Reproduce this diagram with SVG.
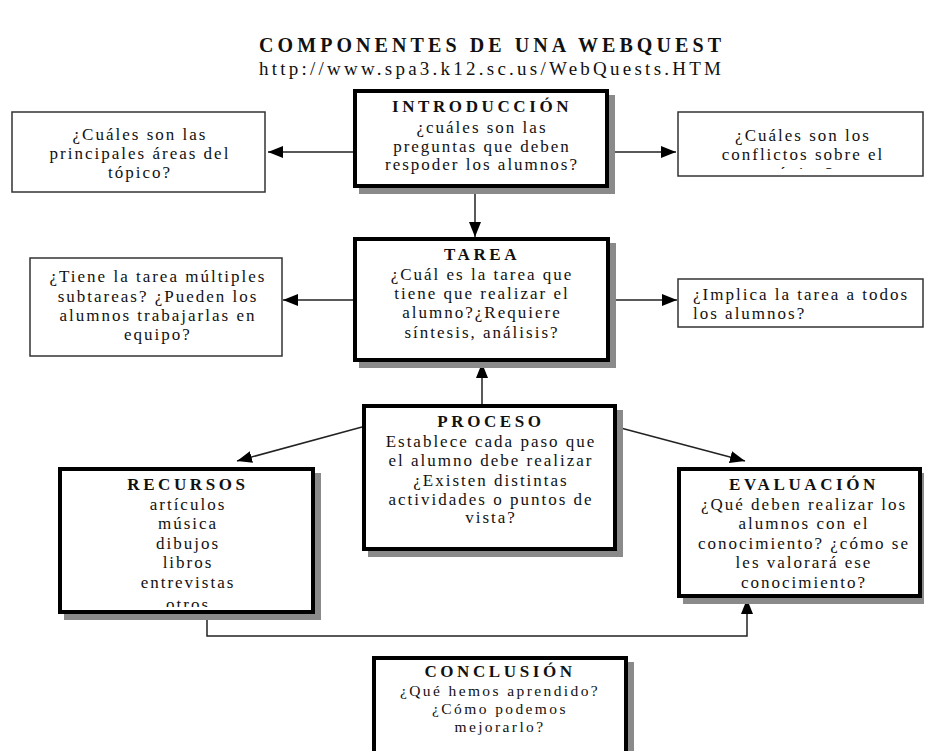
<svg xmlns="http://www.w3.org/2000/svg" width="925" height="751" viewBox="0 0 925 751">
<style>
.t{font-family:"Liberation Serif","Times New Roman",serif;font-size:17px;fill:#111;letter-spacing:2px;text-anchor:middle}
.h{font-family:"Liberation Serif","Times New Roman",serif;font-size:17px;font-weight:bold;fill:#111;letter-spacing:3.6px;text-anchor:middle}
.s{font-size:15.5px;letter-spacing:2.4px}
.l{text-anchor:start}
.thick{fill:#fff;stroke:#000;stroke-width:4}
.shadow{fill:#8a8a8a}
.thin{fill:#fff;stroke:#333;stroke-width:1.5}
.c{fill:none;stroke:#222;stroke-width:1.5}
</style>
<defs>
<marker id="ah" markerUnits="userSpaceOnUse" markerWidth="16" markerHeight="12" refX="15" refY="6" orient="auto">
<path d="M0,0 L15,6 L0,12 z" fill="#000"/>
</marker>
<clipPath id="cr1"><rect x="678" y="112" width="246" height="57"/></clipPath>
<clipPath id="crec"><rect x="60" y="469" width="253" height="138"/></clipPath>
</defs>
<rect width="925" height="751" fill="#fff"/>

<g id="title">
<text x="490" y="52" font-family="Liberation Serif,serif" font-size="20" font-weight="bold" fill="#111" text-anchor="middle" textLength="462" lengthAdjust="spacing">COMPONENTES DE UNA WEBQUEST</text>
<text x="490" y="75" font-family="Liberation Serif,serif" font-size="19" fill="#111" text-anchor="middle" textLength="462" lengthAdjust="spacing">http://www.spa3.k12.sc.us/WebQuests.HTM</text>
</g>

<g id="connectors">
<line class="c" x1="353" y1="152" x2="268" y2="152" marker-end="url(#ah)"/>
<line class="c" x1="609" y1="152" x2="676" y2="152" marker-end="url(#ah)"/>
<line class="c" x1="475" y1="188" x2="475" y2="237" marker-end="url(#ah)"/>
<line class="c" x1="353" y1="300" x2="283" y2="300" marker-end="url(#ah)"/>
<line class="c" x1="610" y1="300" x2="677" y2="300" marker-end="url(#ah)"/>
<line class="c" x1="482" y1="404" x2="482" y2="363" marker-end="url(#ah)"/>
<line class="c" x1="362" y1="427" x2="237" y2="461" marker-end="url(#ah)"/>
<line class="c" x1="617" y1="427" x2="745" y2="461" marker-end="url(#ah)"/>
<polyline class="c" points="207,614 207,636 747,636 747,599" marker-end="url(#ah)"/>
</g>

<g id="introduccion">
<rect class="shadow" x="359" y="95" width="256" height="99"/>
<rect class="thick" x="355" y="91" width="252" height="95"/>
<text class="h" x="482" y="112">INTRODUCCIÓN</text>
<text class="t" x="482" y="133">¿cuáles son las</text>
<text class="t" x="482" y="152">preguntas que deben</text>
<text class="t" x="482" y="170">respoder los alumnos?</text>
</g>

<g id="areas">
<rect class="thin" x="12" y="112" width="253" height="80"/>
<text class="t" x="140" y="140">¿Cuáles son las</text>
<text class="t" x="140" y="159">principales áreas del</text>
<text class="t" x="140" y="178">tópico?</text>
</g>

<g id="conflictos">
<rect class="thin" x="678" y="112" width="245" height="64"/>
<g clip-path="url(#cr1)">
<text class="t" x="803" y="141">¿Cuáles son los</text>
<text class="t" x="803" y="160">conflictos sobre el</text>
<text class="t" x="803" y="179">tópico?</text>
</g>
</g>

<g id="tarea">
<rect class="shadow" x="359" y="243" width="257" height="125"/>
<rect class="thick" x="355" y="239" width="253" height="121"/>
<text class="h" x="482" y="260">TAREA</text>
<text class="t" x="482" y="280">¿Cuál es la tarea que</text>
<text class="t" x="482" y="299">tiene que realizar el</text>
<text class="t" x="482" y="318">alumno?¿Requiere</text>
<text class="t" x="482" y="338">síntesis, análisis?</text>
</g>

<g id="subtareas">
<rect class="thin" x="30" y="258" width="252" height="98"/>
<text class="t" x="158" y="282">¿Tiene la tarea múltiples</text>
<text class="t" x="158" y="302">subtareas? ¿Pueden los</text>
<text class="t" x="158" y="321">alumnos trabajarlas en</text>
<text class="t" x="158" y="340">equipo?</text>
</g>

<g id="implica">
<rect class="thin" x="678" y="279" width="245" height="48"/>
<text class="t l" x="693" y="300">¿Implica la tarea a todos</text>
<text class="t l" x="693" y="319">los alumnos?</text>
</g>

<g id="proceso">
<rect class="shadow" x="368" y="410" width="255" height="147"/>
<rect class="thick" x="364" y="406" width="251" height="143"/>
<text class="h" x="491" y="427">PROCESO</text>
<text class="t" x="491" y="447">Establece cada paso que</text>
<text class="t" x="491" y="466">el alumno debe realizar</text>
<text class="t" x="491" y="486">¿Existen distintas</text>
<text class="t" x="491" y="505">actividades o puntos de</text>
<text class="t" x="491" y="523">vista?</text>
</g>

<g id="recursos">
<rect class="shadow" x="64" y="473" width="257" height="147"/>
<rect class="thick" x="60" y="469" width="253" height="143"/>
<text class="h" x="188" y="490">RECURSOS</text>
<g clip-path="url(#crec)">
<text class="t" x="188" y="510">artículos</text>
<text class="t" x="188" y="529">música</text>
<text class="t" x="188" y="549">dibujos</text>
<text class="t" x="188" y="568">libros</text>
<text class="t" x="188" y="588">entrevistas</text>
<text class="t" x="188" y="610">otros</text>
</g>
</g>

<g id="evaluacion">
<rect class="shadow" x="683" y="473" width="241" height="131"/>
<rect class="thick" x="679" y="469" width="241" height="127"/>
<text class="h" x="804" y="490">EVALUACIÓN</text>
<text class="t" x="804" y="510">¿Qué deben realizar los</text>
<text class="t" x="804" y="529">alumnos con el</text>
<text class="t" x="804" y="549">conocimiento? ¿cómo se</text>
<text class="t" x="804" y="568">les valorará ese</text>
<text class="t" x="804" y="588">conocimiento?</text>
</g>

<g id="conclusion">
<rect class="shadow" x="378" y="662" width="256" height="120"/>
<rect class="thick" x="374" y="658" width="252" height="120"/>
<text class="h" x="500" y="677">CONCLUSIÓN</text>
<text class="t s" x="500" y="696">¿Qué hemos aprendido?</text>
<text class="t s" x="500" y="714">¿Cómo podemos</text>
<text class="t s" x="500" y="732">mejorarlo?</text>
</g>
</svg>
